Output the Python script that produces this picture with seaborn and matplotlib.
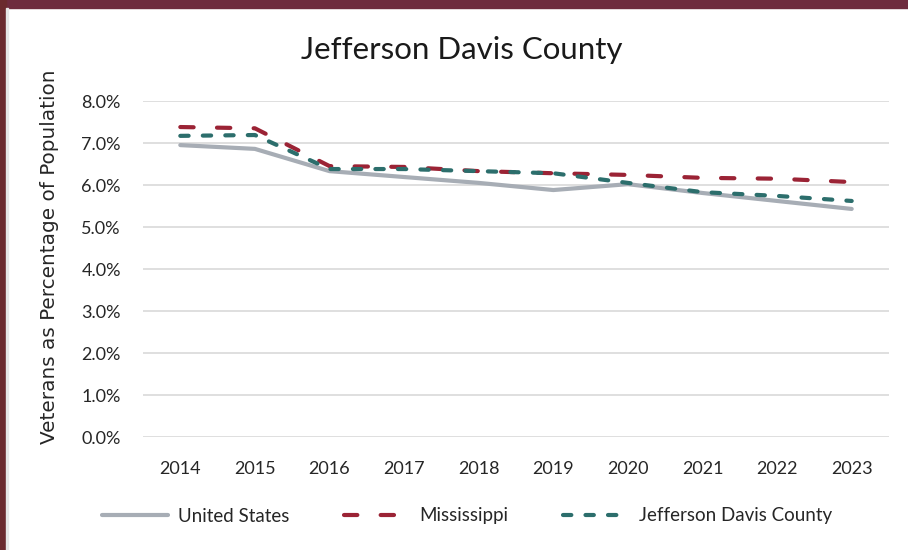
import matplotlib
matplotlib.use("Agg")
import matplotlib.pyplot as plt
import matplotlib.patches as mpatches
from matplotlib.lines import Line2D
from matplotlib.ticker import FuncFormatter
import seaborn as sns
import pandas as pd

years = [2014, 2015, 2016, 2017, 2018, 2019, 2020, 2021, 2022, 2023]
united_states = [6.95, 6.86, 6.33, 6.19, 6.05, 5.88, 6.02, 5.81, 5.62, 5.43]
mississippi = [7.38, 7.35, 6.45, 6.43, 6.33, 6.28, 6.24, 6.17, 6.15, 6.07]
jefferson_davis = [7.17, 7.19, 6.38, 6.38, 6.33, 6.28, 6.05, 5.83, 5.74, 5.62]
series_names = ["United States", "Mississippi", "Jefferson Davis County"]
y_ticks = [0, 1, 2, 3, 4, 5, 6, 7, 8]

colors = {"United States": "#A7ADB5", "Mississippi": "#9B2335", "Jefferson Davis County": "#2C6E6C"}
dashes = {"United States": "", "Mississippi": (3.2, 5.6), "Jefferson Davis County": (2.0, 3.4)}

df = pd.DataFrame({
    "Year": years * 3,
    "Value": united_states + mississippi + jefferson_davis,
    "Series": [series_names[0]] * len(years) + [series_names[1]] * len(years) + [series_names[2]] * len(years),
})

sns.set_theme(style="white")
plt.rcParams["font.family"] = ["Lato", "DejaVu Sans"]
plt.rcParams["lines.dash_capstyle"] = "round"
plt.rcParams["lines.solid_capstyle"] = "round"

fig = plt.figure(figsize=(9.08, 5.5), dpi=100)
ax = fig.add_axes([143 / 908, 1 - 437 / 550, (889 - 143) / 908, (437 - 101) / 550])

sns.lineplot(data=df, x="Year", y="Value", hue="Series", style="Series",
             palette=colors, dashes=dashes, hue_order=series_names, style_order=series_names,
             linewidth=3.0, legend=False, ax=ax)

ax.set_xlim(2013.5, 2023.5)
ax.set_ylim(0, 8)
ax.set_yticks(y_ticks)
ax.yaxis.set_major_formatter(FuncFormatter(lambda v, p: f"{v:.1f}%"))
ax.set_xticks(years)
ax.set_xticklabels([str(y) for y in years])
ax.grid(axis="y", color="#D9D9D9", linewidth=1.2)
ax.grid(axis="x", visible=False)
for s in ax.spines.values():
    s.set_visible(False)
ax.tick_params(axis="both", length=0, labelsize=13, labelcolor="#262626")
ax.tick_params(axis="y", pad=16)
ax.tick_params(axis="x", pad=17)
ax.set_xlabel("")
ylab = ax.set_ylabel("Veterans as Percentage of Population", fontsize=14.4, fontname="DejaVu Sans",
                     color="#262626")
ax.yaxis.set_label_coords(-0.112, 0.536)

fig.text(462 / 908, 1 - 50 / 550, "Jefferson Davis County", ha="center", va="center",
         fontsize=22.5, color="#1a1a1a")

handles = [Line2D([0], [0], color=colors[n], linewidth=3.0,
                  linestyle=(0, dashes[n]) if dashes[n] else "-") for n in series_names]
fig.legend(handles, series_names, loc="center", bbox_to_anchor=(467 / 908, 1 - 516 / 550),
           ncol=3, frameon=False, fontsize=13.5, handlelength=3.5, columnspacing=2.9,
           handletextpad=0.55)

# border
fig.patches.append(mpatches.Rectangle((0, 1 - 8 / 550), 1, 8 / 550, transform=fig.transFigure,
                                      color="#6E2B3E", zorder=10))
fig.patches.append(mpatches.Rectangle((0, 0), 6 / 908, 1, transform=fig.transFigure,
                                      color="#6B2A2E", zorder=10))
fig.patches.append(mpatches.Rectangle((6 / 908, 0), 2 / 908, 1 - 8 / 550, transform=fig.transFigure,
                                      color="#E6E6E6", zorder=10))

fig.savefig("out.png", dpi=100)
